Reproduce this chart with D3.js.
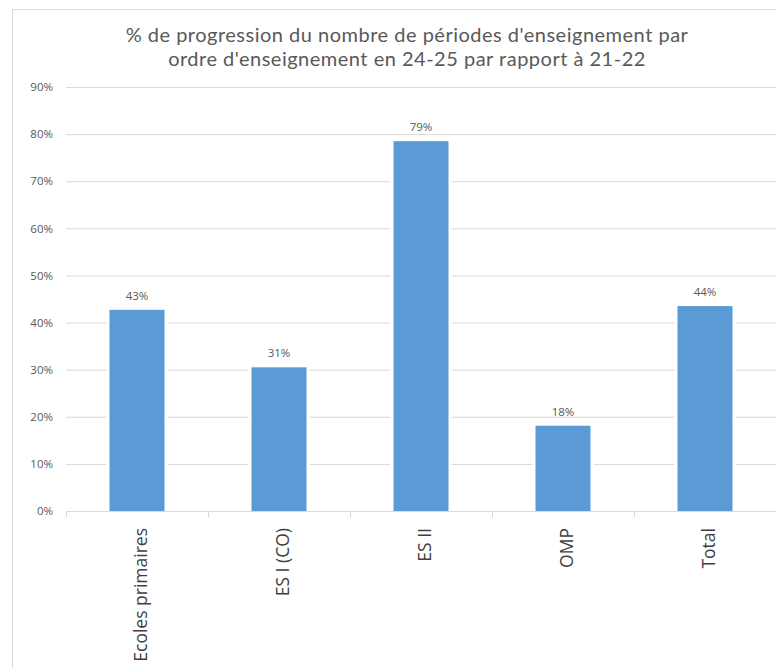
<!DOCTYPE html>
<html><head><meta charset="utf-8">
<script src="https://cdn.jsdelivr.net/npm/d3@7"></script>
<style>body{margin:0;background:#fff}svg{display:block}</style>
</head><body>
<svg id="c" width="776" height="668"></svg>
<script>
const categories = ["Ecoles primaires", "ES I (CO)", "ES II", "OMP", "Total"];
const values = [42.7, 30.5, 78.5, 18.1, 43.5];
const valueLabels = ["43%", "31%", "79%", "18%", "44%"];
const yTicks = [0, 10, 20, 30, 40, 50, 60, 70, 80, 90];
const titleLines = ["% de progression du nombre de périodes d'enseignement par", "ordre d'enseignement  en 24-25 par rapport à 21-22"];

const svg = d3.select("#c");
const font = "'Open Sans', sans-serif";
const grey = "#d9d9d9";

// frame
svg.append("path").attr("d", "M12.5,680V9.5H790").attr("fill", "none").attr("stroke", grey).attr("stroke-width", 1);

// title
svg.append("g").selectAll("text").data(titleLines).join("text")
  .attr("x", 407).attr("y", (d, i) => 42 + i * 24)
  .attr("text-anchor", "middle").attr("font-family", "Lato, sans-serif").attr("font-size", 20)
  .attr("letter-spacing", 0.5)
  .attr("fill", "#595959").text(d => d);

const x = d3.scaleBand().domain(categories).range([66, 776]).paddingInner(0).paddingOuter(0);
const y = d3.scaleLinear().domain([0, 90]).range([511, 87]);

// gridlines
svg.append("g").selectAll("line").data(yTicks.filter(t => t > 0)).join("line")
  .attr("x1", 66).attr("x2", 776).attr("y1", d => y(d) + 0.5).attr("y2", d => y(d) + 0.5)
  .attr("stroke", grey).attr("stroke-width", 1);

// y axis labels
const yAxis = d3.axisLeft(y).tickValues(yTicks).tickFormat(d => d + "%").tickSize(0).tickPadding(0);
const gy = svg.append("g").attr("transform", "translate(53,0)").call(yAxis);
gy.select(".domain").remove();
gy.selectAll("text").attr("font-family", font).attr("font-size", 11.5).attr("fill", "#595959");

// bars
const bw = 55;
const bars = svg.append("g");
bars.selectAll("rect.bg").data(categories).join("rect").attr("class", "bg")
  .attr("x", d => x(d) + x.bandwidth() / 2 - bw / 2 - 3)
  .attr("y", (d, i) => y(values[i]) - 1)
  .attr("width", bw + 6).attr("height", (d, i) => y(0) - y(values[i]) + 1)
  .attr("fill", "#fff");
bars.selectAll("rect.bar").data(categories).join("rect").attr("class", "bar")
  .attr("x", d => x(d) + x.bandwidth() / 2 - bw / 2)
  .attr("y", (d, i) => y(values[i]))
  .attr("width", bw).attr("height", (d, i) => y(0) - y(values[i]))
  .attr("fill", "#5b9bd5");

// value labels
svg.append("g").selectAll("text").data(categories).join("text")
  .attr("x", d => x(d) + x.bandwidth() / 2)
  .attr("y", (d, i) => y(values[i]) - 10)
  .attr("text-anchor", "middle").attr("font-family", font).attr("font-size", 11.5)
  .attr("fill", "#595959").text((d, i) => valueLabels[i]);

// x axis
const xAxis = d3.axisBottom(x).tickSize(0).tickFormat("");
const gx = svg.append("g").attr("transform", "translate(0,511.5)").call(xAxis);
gx.select(".domain").attr("stroke", grey).attr("d", "M66,0H776");
gx.selectAll(".tick").remove();
// boundary ticks
const bounds = categories.map(c => x(c));
gx.selectAll("line.b").data(bounds).join("line").attr("class", "b")
  .attr("x1", d => d + 0.5).attr("x2", d => d + 0.5).attr("y1", 0).attr("y2", 6)
  .attr("stroke", grey);

// x labels rotated
svg.append("g").selectAll("text").data(categories).join("text")
  .attr("transform", d => `translate(${x(d) + x.bandwidth() / 2 + 10},528) rotate(-90)`)
  .attr("text-anchor", "end").attr("font-family", font).attr("font-size", 17.5)
  .attr("fill", "#404040").text(d => d);
</script>
</body></html>
